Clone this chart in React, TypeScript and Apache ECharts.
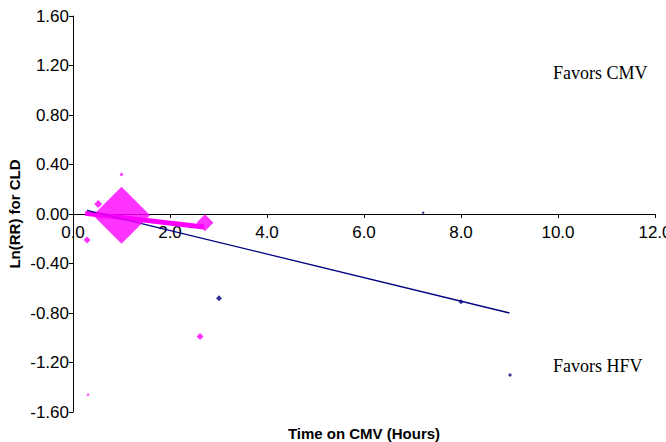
import React, { useEffect, useRef } from "react";
import * as echarts from "echarts";

// Magenta studies: [time on CMV (h), ln(RR), marker size (weight)]
const magentaStudies: [number, number, number][] = [
  [1.0, -0.01, 57],
  [0.52, 0.08, 8],
  [1.0, 0.32, 4],
  [0.29, -0.21, 7],
  [2.72, -0.07, 17],
  [2.62, -0.99, 7],
  [0.31, -1.46, 3],
];

// Navy studies
const navyStudies: [number, number, number][] = [
  [3.01, -0.68, 6],
  [8.0, -0.71, 5],
  [7.22, 0.01, 3],
  [9.01, -1.3, 4],
];

// Regression lines
const navyTrend: [number, number][] = [
  [0.29, 0.03],
  [9.0, -0.8],
];
const magentaTrend: [number, number][] = [
  [0.25, 0.005],
  [2.7, -0.105],
];

const xTicks = { min: 0, max: 12, interval: 2 };
const yTicks = { min: -1.6, max: 1.6, interval: 0.4 };

const annotations = [
  { text: "Favors CMV", x: 553, y: 73 },
  { text: "Favors HFV", x: 553, y: 366 },
];

export default function App() {
  const ref = useRef<HTMLDivElement>(null);
  useEffect(() => {
    if (!ref.current) return;
    const chart = echarts.init(ref.current, null, { renderer: "svg" });
    const sans = "'Liberation Sans', Arial, sans-serif";
    const gridTop = 16;
    const gridBottom = 30;
    const plotH = 442 - gridTop - gridBottom;
    const zeroOffset = -Math.round((plotH * (0 - yTicks.min)) / (yTicks.max - yTicks.min));
    chart.setOption({
      animation: false,
      backgroundColor: "#ffffff",
      grid: {
        left: 73,
        right: 11,
        top: gridTop,
        bottom: gridBottom,
        containLabel: false,
        outerBoundsMode: "none",
      },
      xAxis: {
        type: "value",
        position: "bottom",
        offset: zeroOffset,
        min: xTicks.min,
        max: xTicks.max,
        interval: xTicks.interval,
        axisLine: { onZero: false, lineStyle: { color: "#000", width: 1 } },
        axisTick: { show: true, length: 4, lineStyle: { color: "#000" } },
        axisLabel: {
          color: "#000",
          fontSize: 17,
          fontFamily: sans,
          margin: 10,
          showMaxLabel: true,
          formatter: (v: number) => v.toFixed(1),
        },
        splitLine: { show: false },
      },
      yAxis: {
        type: "value",
        min: yTicks.min,
        max: yTicks.max,
        interval: yTicks.interval,
        axisLine: { show: true, onZero: false, lineStyle: { color: "#000", width: 1 } },
        axisTick: { show: true, length: 4, lineStyle: { color: "#000" } },
        axisLabel: {
          color: "#000",
          fontSize: 17,
          fontFamily: sans,
          margin: 4,
          formatter: (v: number) => v.toFixed(2),
        },
        splitLine: { show: false },
      },
      graphic: [
        {
          type: "text",
          x: 14,
          y: 214,
          rotation: Math.PI / 2,
          style: {
            text: "Ln(RR) for CLD",
            font: `bold 15px ${sans}`,
            fill: "#000",
            align: "center",
            verticalAlign: "middle",
          },
        },
        {
          type: "text",
          x: 364,
          y: 433,
          style: {
            text: "Time on CMV (Hours)",
            font: `bold 15px ${sans}`,
            fill: "#000",
            align: "center",
            verticalAlign: "middle",
          },
        },
        ...annotations.map((a) => ({
          type: "text",
          x: a.x,
          y: a.y,
          style: {
            text: a.text,
            font: "18px 'Liberation Serif', 'Times New Roman', serif",
            fill: "#000",
            align: "left",
            verticalAlign: "middle",
          },
        })),
      ],
      series: [
        {
          type: "line",
          data: magentaTrend,
          symbol: "none",
          lineStyle: { color: "#ff00ff", width: 5 },
          z: 1,
        },
        {
          type: "line",
          data: navyTrend,
          symbol: "none",
          lineStyle: { color: "#000080", width: 1.3 },
          z: 2,
        },
        {
          type: "scatter",
          data: magentaStudies,
          symbol: "diamond",
          symbolSize: (d: number[]) => d[2],
          itemStyle: { color: "#ff00ff" },
          z: 3,
        },
        {
          type: "scatter",
          data: navyStudies,
          symbol: "diamond",
          symbolSize: (d: number[]) => d[2],
          itemStyle: { color: "#000080" },
          z: 3,
        },
      ],
    });
    return () => chart.dispose();
  }, []);
  return (
    <div
      ref={ref}
      style={{ position: "absolute", left: 0, top: 0, width: 666, height: 442 }}
    />
  );
}
